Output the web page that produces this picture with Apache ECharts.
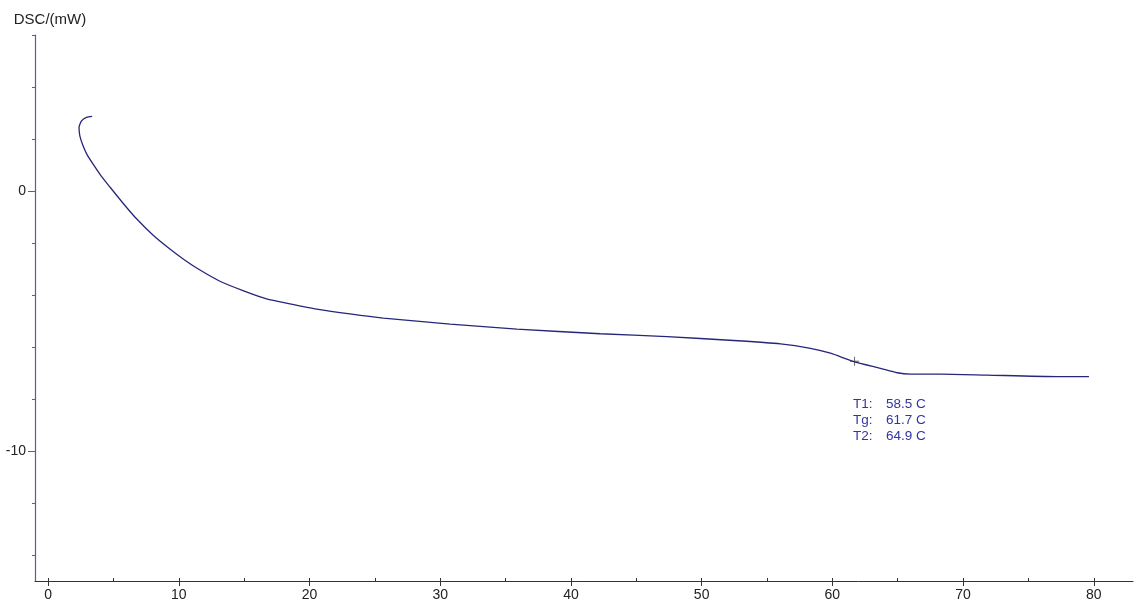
<!DOCTYPE html>
<html>
<head>
<meta charset="utf-8">
<script src="https://cdn.jsdelivr.net/npm/echarts@6/dist/echarts.min.js"></script>
<style>
html,body{margin:0;padding:0;background:#fff;}
#chart{width:1134px;height:602px;}
</style>
</head>
<body>
<div id="chart"></div>
<script>
// Data
var temperature = [3.37, 2.94, 2.56, 2.37, 2.43, 2.66, 2.96, 3.45, 4.04, 4.72, 5.72, 6.77, 8.02, 9.32, 10.47, 11.62, 13.15, 14.91, 16.72, 18.51, 20.55, 23.10, 25.65, 30.76, 35.87, 42.24, 47.35, 52.45, 56.03, 58.32, 59.85, 61.64, 63.68, 64.96, 65.98, 68.28, 71.85, 77.21, 79.63];
var dsc = [2.87, 2.83, 2.70, 2.45, 2.12, 1.76, 1.42, 1.03, 0.59, 0.16, -0.46, -1.07, -1.69, -2.23, -2.66, -3.04, -3.47, -3.83, -4.15, -4.34, -4.54, -4.73, -4.89, -5.12, -5.31, -5.49, -5.60, -5.75, -5.88, -6.05, -6.24, -6.56, -6.82, -6.99, -7.04, -7.04, -7.08, -7.14, -7.14];
var tgPoint = [61.7, -6.55];
var xTickValues = [0, 10, 20, 30, 40, 50, 60, 70, 80];
var xMinorValues = [0, 5, 10, 15, 20, 25, 30, 35, 40, 45, 50, 55, 60, 65, 70, 75, 80];
var yTickValues = [-10, 0];
var yMinorValues = [-14, -12, -10, -8, -6, -4, -2, 0, 2, 4, 6];
var annotationLabels = ['T1:', 'Tg:', 'T2:'];
var annotationValues = ['58.5 C', '61.7 C', '64.9 C'];

var curve = temperature.map(function (t, i) { return [t, dsc[i]]; });

var chart = echarts.init(document.getElementById('chart'), null, {renderer: 'canvas'});
var font = '"Liberation Sans", Arial, sans-serif';

var graphics = [];
annotationLabels.forEach(function (lab, i) {
  graphics.push({type: 'text', left: 853, top: 397 + i * 16,
    style: {text: lab, fill: '#3434a4', font: '13.5px ' + font}});
  graphics.push({type: 'text', left: 886, top: 397 + i * 16,
    style: {text: annotationValues[i], fill: '#3434a4', font: '13.5px ' + font}});
});

chart.setOption({
  animation: false,
  backgroundColor: '#ffffff',
  grid: {left: 35, right: 1, top: 35, bottom: 21, containLabel: false, outerBoundsMode: 'none'},
  xAxis: [{
    type: 'value', position: 'bottom', min: -1, max: 83,
    axisLine: {show: true, onZero: false, lineStyle: {color: '#333', width: 1}},
    axisTick: {show: true, customValues: xTickValues, length: 5, lineStyle: {color: '#333'}},
    axisLabel: {customValues: xTickValues, fontSize: 14, color: '#222', margin: 7, fontFamily: font},
    splitLine: {show: false}
  }, {
    type: 'value', position: 'bottom', min: -1, max: 83,
    axisLine: {show: false, onZero: false},
    axisTick: {show: true, inside: true, customValues: xMinorValues, length: 3, lineStyle: {color: '#333'}},
    axisLabel: {show: false},
    splitLine: {show: false}
  }],
  yAxis: [{
    type: 'value', position: 'left', min: -15, max: 6,
    name: 'DSC/(mW)', nameLocation: 'end', nameGap: 8,
    nameTextStyle: {fontSize: 15, color: '#222', fontFamily: font, align: 'center', padding: [0, 0, 0, 30]},
    axisLine: {show: true, onZero: false, lineStyle: {color: '#5c5c94', width: 1.2}},
    axisTick: {show: true, customValues: yTickValues, length: 7, lineStyle: {color: '#5c5c94'}},
    axisLabel: {customValues: yTickValues, fontSize: 14, color: '#222', margin: 9, fontFamily: font},
    splitLine: {show: false}
  }, {
    type: 'value', position: 'left', min: -15, max: 6,
    axisLine: {show: false, onZero: false},
    axisTick: {show: true, customValues: yMinorValues, length: 3, lineStyle: {color: '#5c5c94'}},
    axisLabel: {show: false},
    splitLine: {show: false}
  }],
  series: [{
    type: 'line', xAxisIndex: 0, yAxisIndex: 0,
    data: curve, showSymbol: false, smooth: 0.2,
    lineStyle: {color: '#26267a', width: 1.3}
  }, {
    type: 'scatter', xAxisIndex: 0, yAxisIndex: 0,
    data: [tgPoint],
    symbol: 'path://M4.5,0h1v4.5h4.5v1h-4.5v4.5h-1v-4.5h-4.5v-1h4.5z',
    symbolSize: 9,
    itemStyle: {color: '#333'}
  }],
  graphic: graphics
});
</script>
</body>
</html>
